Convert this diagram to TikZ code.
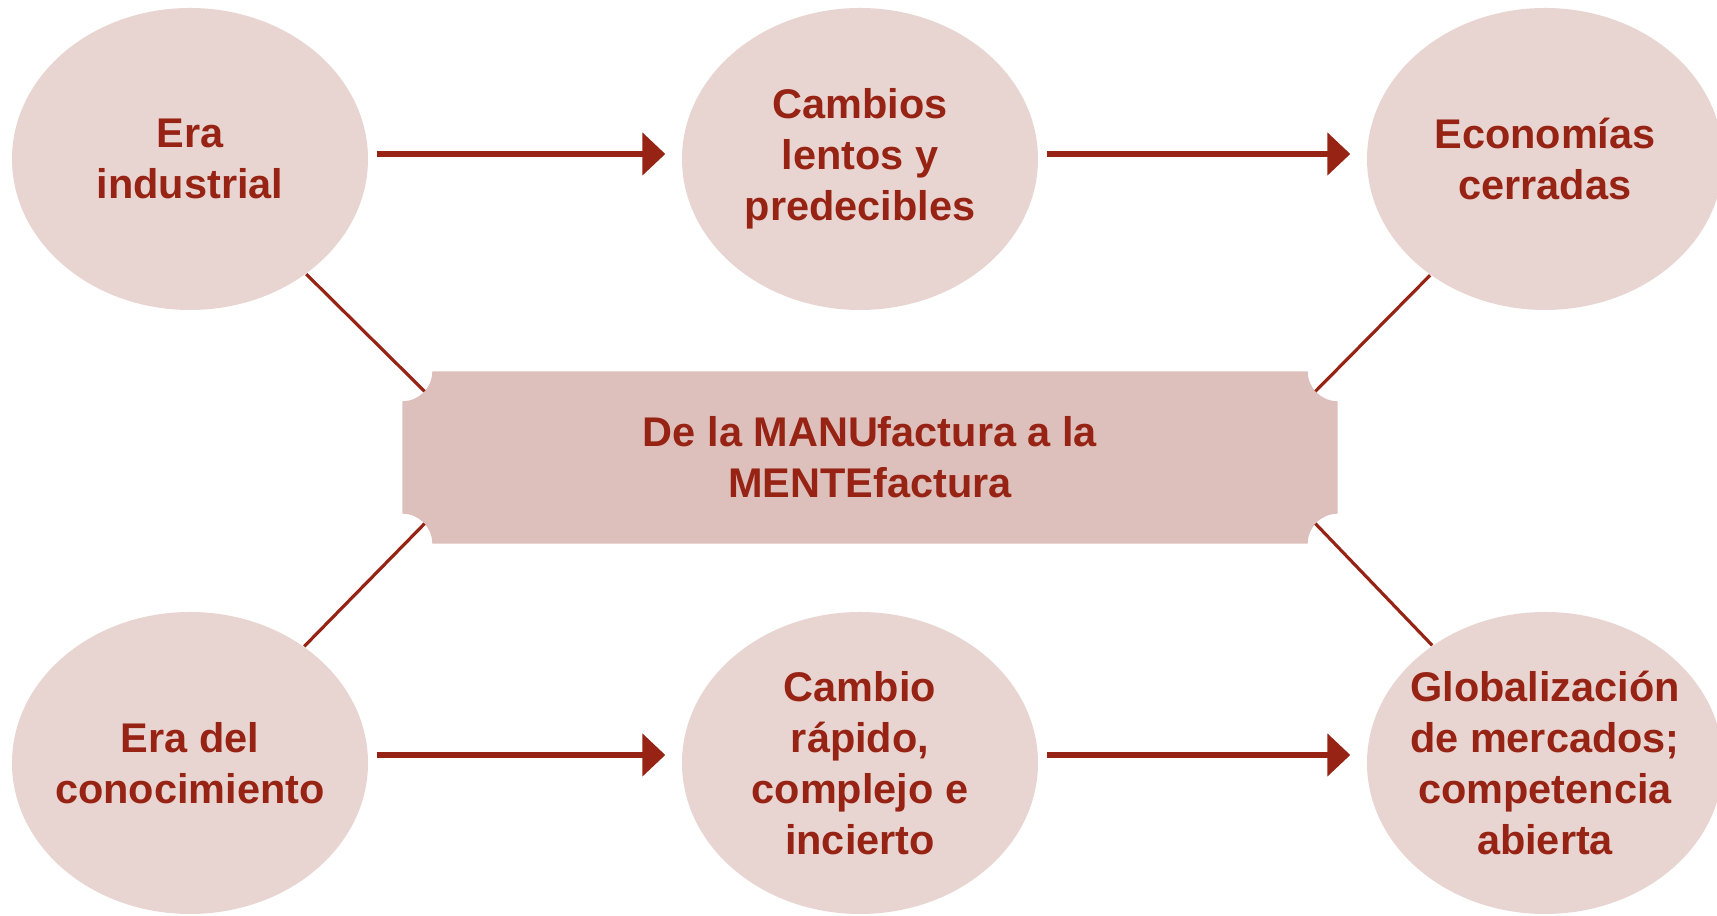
\documentclass[tikz,border=0pt]{standalone}
\usepackage{fontspec}
\setmainfont{Liberation Sans}
\usetikzlibrary{positioning,shapes.geometric,arrows.meta,backgrounds}

\definecolor{brickred}{RGB}{150,35,20}
\definecolor{erafill}{RGB}{232,213,209}
\definecolor{plaquefill}{RGB}{221,192,187}

\begin{document}
\begin{tikzpicture}[
    % Node styles in soft pink with brick red text
    era/.style={ellipse, fill=erafill, minimum width=3.56cm, minimum height=3.02cm, inner sep=-0.6cm, font=\fontsize{11.8}{14.5}\selectfont\bfseries, text=brickred, align=center},
    plaque/.style={minimum width=9.34cm, minimum height=1.71cm, inner sep=0pt, font=\fontsize{11.8}{14.5}\selectfont\bfseries, text=brickred, align=center},
    % Arrow styles
    flow/.style={-{Triangle[length=0.23cm, width=0.42cm]}, draw=brickred, line width=1.5pt, shorten <=0.08cm, shorten >=0.16cm},
    link/.style={draw=brickred, line width=0.9pt}
]

\useasboundingbox (0,0) rectangle (17.17,9.16);

% Top row - industrial era
\node[era] (ind) at (1.90, 7.57) {Era\\industrial};
\node[era] (lentos) at (8.60, 7.57) {Cambios\\lentos y\\predecibles};
\node[era] (cerradas) at (15.45, 7.57) {Economías\\cerradas};

% Bottom row - knowledge era
\node[era] (conoc) at (1.90, 1.53) {Era del\\conocimiento};
\node[era] (rapido) at (8.60, 1.53) {Cambio\\rápido,\\complejo e\\incierto};
\node[era] (global) at (15.45, 1.53) {Globalización\\de mercados;\\competencia\\abierta};

% Central plaque
\node[plaque] (manu) at (8.70, 4.585) {De la MANUfactura a la\\MENTEfactura};
\begin{scope}[on background layer]
    \fill[plaquefill] ([xshift=0.3cm]manu.north west) -- ([xshift=-0.3cm]manu.north east)
        arc[start angle=180, end angle=270, radius=0.3cm] -- ([yshift=0.3cm]manu.south east)
        arc[start angle=90, end angle=180, radius=0.3cm] -- ([xshift=0.3cm]manu.south west)
        arc[start angle=0, end angle=90, radius=0.3cm] -- ([yshift=-0.3cm]manu.north west)
        arc[start angle=270, end angle=360, radius=0.3cm] -- cycle;
\end{scope}

% Notch points of the plaque
\coordinate (nw) at ([shift={(-42:0.3cm)}]manu.north west);
\coordinate (ne) at ([shift={(222:0.3cm)}]manu.north east);
\coordinate (sw) at ([shift={(42:0.3cm)}]manu.south west);
\coordinate (se) at ([shift={(138:0.3cm)}]manu.south east);

% Arrows along each row, a little above the centres
\draw[flow] ([yshift=0.05cm]ind.east) -- ([yshift=0.05cm]lentos.west);
\draw[flow] ([yshift=0.05cm]lentos.east) -- ([yshift=0.05cm]cerradas.west);
\draw[flow] ([yshift=0.08cm]conoc.east) -- ([yshift=0.08cm]rapido.west);
\draw[flow] ([yshift=0.08cm]rapido.east) -- ([yshift=0.08cm]global.west);

% Links to the plaque
\draw[link] (ind) -- (nw);
\draw[link] (cerradas) -- (ne);
\draw[link] (conoc) -- (sw);
\draw[link] (global) -- (se);

\end{tikzpicture}
\end{document}
